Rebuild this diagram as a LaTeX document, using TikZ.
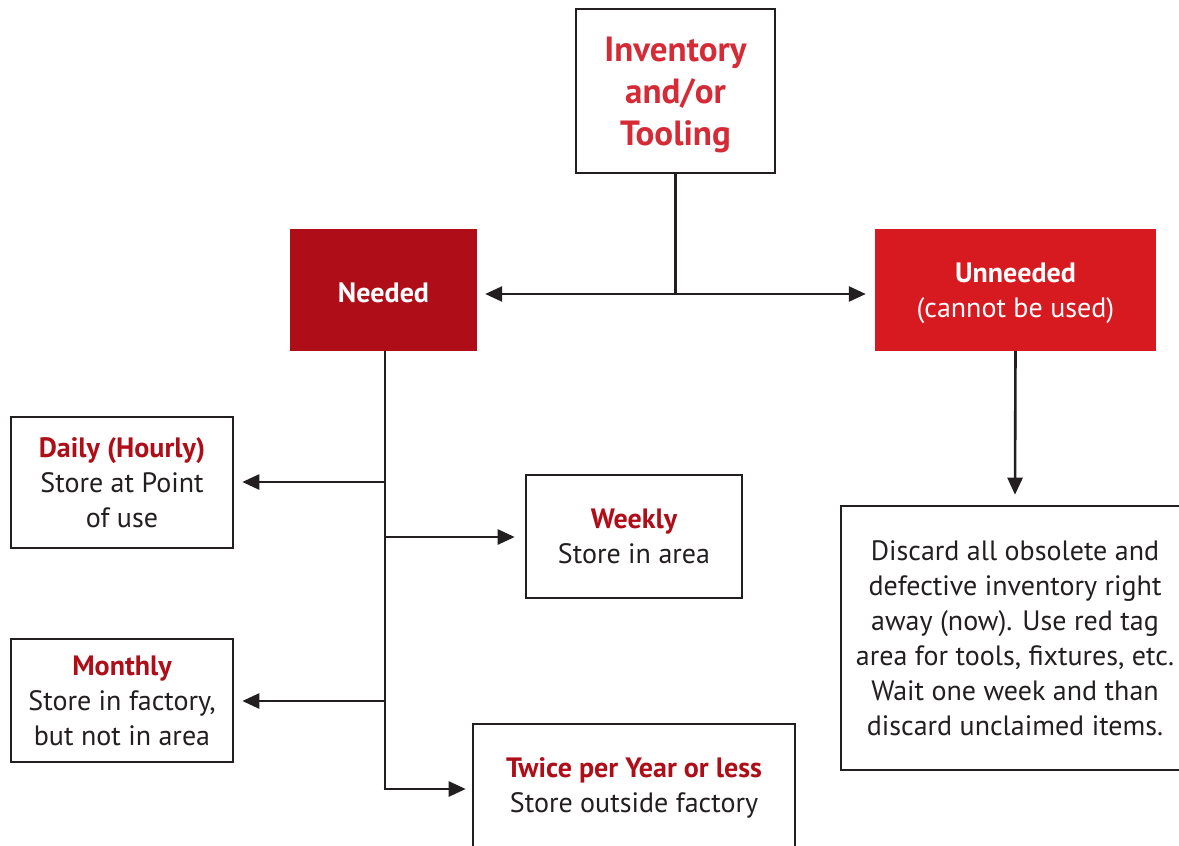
\documentclass[tikz,border=0pt]{standalone}
\usepackage{fontspec}
\setmainfont{PT Sans}
\usetikzlibrary{arrows.meta}
\definecolor{txt}{HTML}{231F20}
\definecolor{darkred}{HTML}{AF0D18}
\definecolor{brightred}{HTML}{D71920}
\definecolor{headred}{HTML}{D52B36}
\tikzset{
  box/.style={draw=txt, line width=2.6pt, fill=white, align=center, inner sep=0pt, text=txt,
    font=\fontsize{28}{35}\selectfont},
  fillbox/.style={inner sep=0pt, align=center, text=white, font=\fontsize{28}{35}\selectfont},
  lbl/.style={inner sep=0pt, align=center},
  conn/.style={draw=txt, line width=2.6pt},
  arr/.style={conn, -{Triangle[length=17pt,width=15pt]}},
}
\begin{document}
\begin{tikzpicture}[x=1pt,y=-1pt]
\useasboundingbox (0,0) rectangle (1179,846);
\clip (0,0) rectangle (1179,846);
% nodes
\node[box, minimum width=199pt, minimum height=164pt] (inv) at (675.5,91) {};
\node[lbl, text=headred, font=\fontsize{35}{42}\selectfont\bfseries] (invt) at ([yshift=-3.5pt]inv.center) {Inventory\\and/or\\Tooling};
\node[fillbox, fill=darkred, minimum width=187pt, minimum height=122pt] (need) at (383.5,290) {};
\node[lbl, text=white, font=\fontsize{28}{35}\selectfont\bfseries] (needt) at ([yshift=-2.5pt]need.center) {Needed};
\node[fillbox, fill=brightred, minimum width=281pt, minimum height=122pt] (unneed) at (1015.5,290) {};
\node[lbl, text=white, font=\fontsize{28}{35}\selectfont] (unneedt) at ([yshift=-3.5pt]unneed.center) {\textbf{Unneeded}\\(cannot be used)};
\node[box, minimum width=222pt, minimum height=131pt] (daily) at (122,482.5) {{\color{darkred}\bfseries Daily (Hourly)}\\Store at Point\\of use};
\node[box, minimum width=216pt, minimum height=123pt] (weekly) at (634,536.5) {{\color{darkred}\bfseries Weekly}\\Store in area};
\node[box, minimum width=222pt, minimum height=123pt] (monthly) at (122,700.5) {{\color{darkred}\bfseries Monthly}\\Store in factory,\\but not in area};
\node[box, minimum width=322pt, minimum height=128pt] (twice) at (634,788) {{\color{darkred}\bfseries Twice per Year or less}\\Store outside factory};
\node[box, minimum width=348pt, minimum height=264pt] (discard) at (1015,638) {Discard all obsolete and\\defective inventory right\\away (now). Use red tag\\area for tools, fixtures, etc.\\Wait one week and than\\discard unclaimed items.};
% connectors
\coordinate (j) at (675.5,294);
\coordinate (nb) at (385,351);
\coordinate (b1) at (385,482);
\coordinate (b2) at (385,537);
\coordinate (b3) at (385,701);
\coordinate (b4) at (385,789);
\draw[conn] (inv.south) -- (j);
\draw[arr] (j) -- ([xshift=8pt]need.east |- j);
\draw[arr] (j) -- ([xshift=-9pt]unneed.west |- j);
\draw[conn] (nb) -- (b4);
\draw[arr] (b1) -- ([xshift=8pt]daily.east |- b1);
\draw[arr] (b2) -- ([xshift=-10pt]weekly.west |- b2);
\draw[arr] (b3) -- ([xshift=8pt]monthly.east |- b3);
\draw[arr] ([xshift=-1.3pt]b4) -- ([xshift=-6pt]twice.west |- b4);
\draw[arr] (unneed.south) -- ([yshift=10pt]discard.north);
\end{tikzpicture}
\end{document}
